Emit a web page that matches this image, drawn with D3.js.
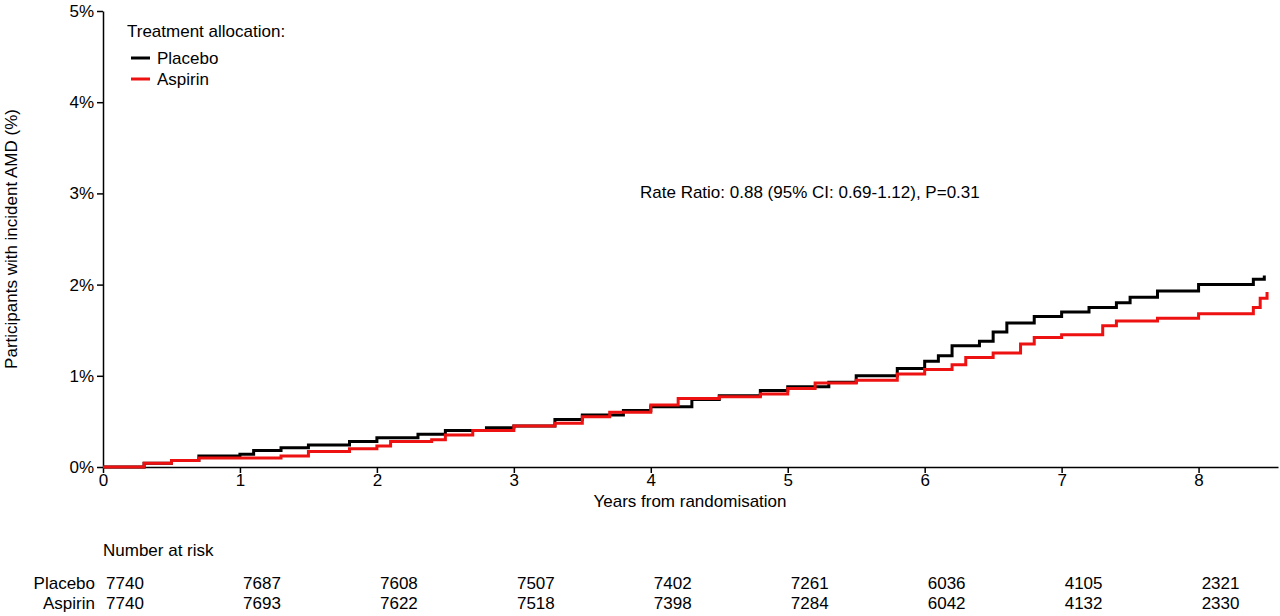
<!DOCTYPE html>
<html><head><meta charset="utf-8">
<script src="https://cdn.jsdelivr.net/npm/d3@7"></script>
<style>body{margin:0;background:#fff}text{font-family:"Liberation Sans",Arial,sans-serif;fill:#000}</style>
</head><body><div id="chart"></div>
<script>
// step curves: [years, cumulative %]
var placebo = [[0,0],[0.3,0.04],[0.5,0.07],[0.7,0.12],[1.0,0.14],[1.1,0.18],[1.3,0.21],[1.5,0.24],[1.8,0.28],[2.0,0.32],[2.3,0.36],[2.5,0.40],[2.8,0.43],[3.0,0.45],[3.3,0.52],[3.5,0.57],[3.8,0.62],[4.0,0.66],[4.3,0.74],[4.5,0.78],[4.8,0.84],[5.0,0.88],[5.3,0.93],[5.5,1.0],[5.8,1.08],[6.0,1.16],[6.1,1.22],[6.2,1.33],[6.4,1.38],[6.5,1.48],[6.6,1.58],[6.8,1.65],[7.0,1.70],[7.2,1.75],[7.4,1.80],[7.5,1.86],[7.7,1.93],[8.0,2.0],[8.4,2.06],[8.48,2.1]];
var aspirin = [[0,0],[0.3,0.04],[0.5,0.07],[0.7,0.10],[1.3,0.12],[1.5,0.17],[1.8,0.20],[2.0,0.23],[2.1,0.28],[2.4,0.30],[2.5,0.35],[2.7,0.40],[3.0,0.45],[3.3,0.48],[3.5,0.55],[3.7,0.60],[4.0,0.68],[4.2,0.75],[4.5,0.77],[4.8,0.80],[5.0,0.86],[5.2,0.92],[5.5,0.95],[5.8,1.02],[6.0,1.07],[6.2,1.12],[6.3,1.20],[6.5,1.25],[6.7,1.35],[6.8,1.42],[7.0,1.45],[7.3,1.55],[7.4,1.60],[7.7,1.63],[8.0,1.68],[8.4,1.75],[8.45,1.85],[8.5,1.92]];
var riskYears = [0,1,2,3,4,5,6,7,8];
var riskPlacebo = [7740,7687,7608,7507,7402,7261,6036,4105,2321];
var riskAspirin = [7740,7693,7622,7518,7398,7284,6042,4132,2330];
var yTicks = [0,1,2,3,4,5];

var W = 1280, H = 616;
var svg = d3.select("#chart").append("svg").attr("width", W).attr("height", H);
var x = d3.scaleLinear().domain([0, 8.58]).range([103, 1278]);
var y = d3.scaleLinear().domain([0, 5]).range([467, 11]);

svg.append("g").attr("transform", "translate(0,467)")
  .call(d3.axisBottom(x).tickValues(riskYears).tickSize(6).tickSizeOuter(0))
  .call(g => g.selectAll("text").attr("font-size", 17).attr("dy", "0.6em"))
  .call(g => g.selectAll("path,line").attr("stroke", "#000").attr("stroke-width", 1.5));
svg.append("g").attr("transform", "translate(103,0)")
  .call(d3.axisLeft(y).tickValues(yTicks).tickFormat(d => d + "%").tickSize(6).tickSizeOuter(0))
  .call(g => g.selectAll("text").attr("font-size", 17))
  .call(g => g.selectAll("path,line").attr("stroke", "#000").attr("stroke-width", 1.5));

var line = d3.line().x(d => x(d[0])).y(d => y(d[1])).curve(d3.curveStepAfter);
svg.append("path").datum(placebo).attr("d", line).attr("fill", "none").attr("stroke", "#000").attr("stroke-width", 3);
svg.append("path").datum(aspirin).attr("d", line).attr("fill", "none").attr("stroke", "#ee1111").attr("stroke-width", 3);

svg.append("text").attr("x", 690).attr("y", 507).attr("text-anchor", "middle").attr("font-size", 17).text("Years from randomisation");
svg.append("text").attr("transform", "translate(17,239) rotate(-90)").attr("text-anchor", "middle").attr("font-size", 17).text("Participants with incident AMD (%)");
svg.append("text").attr("x", 640).attr("y", 198).attr("font-size", 17).text("Rate Ratio: 0.88 (95% CI: 0.69-1.12), P=0.31");

// legend
svg.append("text").attr("x", 127).attr("y", 37).attr("font-size", 17).text("Treatment allocation:");
[["Placebo", "#000", 64], ["Aspirin", "#ee1111", 85]].forEach(function (l) {
  svg.append("line").attr("x1", 131).attr("x2", 150).attr("y1", l[2] - 6).attr("y2", l[2] - 6).attr("stroke", l[1]).attr("stroke-width", 3);
  svg.append("text").attr("x", 157).attr("y", l[2]).attr("font-size", 17).text(l[0]);
});

// number at risk table
svg.append("text").attr("x", 103).attr("y", 556).attr("font-size", 17).text("Number at risk");
[["Placebo", riskPlacebo, 589], ["Aspirin", riskAspirin, 609]].forEach(function (r) {
  svg.append("text").attr("x", 95).attr("y", r[2]).attr("text-anchor", "end").attr("font-size", 17).text(r[0]);
  svg.selectAll(null).data(r[1]).enter().append("text")
    .attr("x", (d, i) => x(riskYears[i]) + 22).attr("y", r[2]).attr("text-anchor", "middle").attr("font-size", 17).text(d => d);
});
</script></body></html>
